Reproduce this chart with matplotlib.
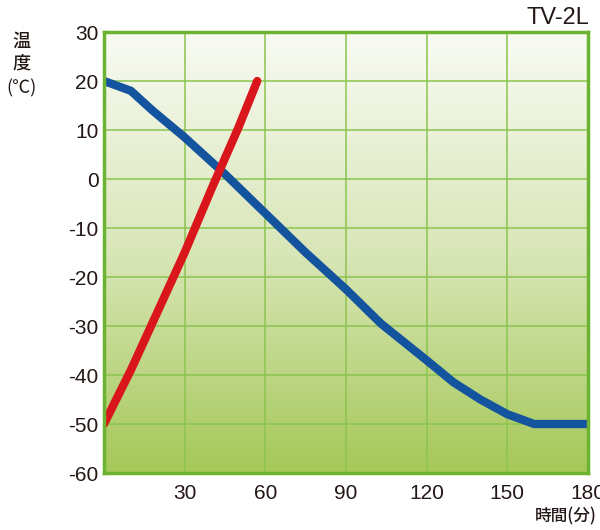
import numpy as np
import matplotlib.pyplot as plt
from matplotlib.colors import LinearSegmentedColormap

plt.rcParams['font.family'] = ['Noto Sans CJK JP', 'DejaVu Sans']
plt.rcParams['axes.unicode_minus'] = False

# cooling curve (blue) and warming curve (red), time in minutes
cool_t = [0, 10, 18, 30, 45, 60, 75, 90, 103, 120, 130, 140, 150, 160, 180]
cool_temp = [20, 18, 14, 8.5, 1, -7, -15, -22.5, -29.5, -37, -41.5, -45, -48, -50, -50]
warm_t = [0, 10, 20, 30, 40, 50, 57]
warm_temp = [-50, -39, -27, -15, -2, 10.5, 20]

xticks = [30, 60, 90, 120, 150, 180]
yticks = [-60, -50, -40, -30, -20, -10, 0, 10, 20, 30]

frame_green = '#6bb330'
grid_green = '#8cc450'
txt = '#231815'

fig = plt.figure(figsize=(6, 5.3), dpi=100)
ax = fig.add_axes([0.1733, 0.1075, 0.8067, 0.8321])

grad = LinearSegmentedColormap.from_list('g', ['#a5c858', '#d9e6b8', '#f9fbf4'])
ax.imshow(np.linspace(0, 1, 256).reshape(-1, 1), cmap=grad, origin='lower',
          extent=[0, 180, -60, 30], aspect='auto', zorder=0)

ax.set_xlim(0, 180)
ax.set_ylim(-60, 30)
ax.set_xticks(xticks)
ax.set_yticks(yticks)
ax.grid(True, color=grid_green, linewidth=1.1, zorder=1)
ax.set_axisbelow(False)
ax.tick_params(length=0, labelsize=15, colors=txt, pad=4)
ax.tick_params(axis='x', pad=8)
for lbl in ax.get_xticklabels() + ax.get_yticklabels():
    lbl.set_family('Liberation Sans')
for s in ax.spines.values():
    s.set_color(frame_green)
    s.set_linewidth(2.5)
    s.set_zorder(5)

ax.plot(cool_t, cool_temp, color='#14549e', linewidth=6, solid_joinstyle='round',
        zorder=3)
ax.plot(warm_t, warm_temp, color='#d9161b', linewidth=6, solid_capstyle='round',
        zorder=4)

fig.text(0.035, 0.922, '温', fontsize=13, ha='center', va='center', color=txt, weight='medium')
fig.text(0.035, 0.880, '度', fontsize=13, ha='center', va='center', color=txt, weight='medium')
fig.text(0.035, 0.834, '(℃)', fontsize=13, ha='center', va='center', color=txt)
fig.text(0.982, 0.966, 'TV-2L', fontsize=17, ha='right', va='center', color=txt,
         family='Liberation Sans')
fig.text(0.995, 0.025, '時間(分)', fontsize=12, ha='right', va='center', color=txt,
         weight='medium')

fig.savefig('out.png', dpi=100)
